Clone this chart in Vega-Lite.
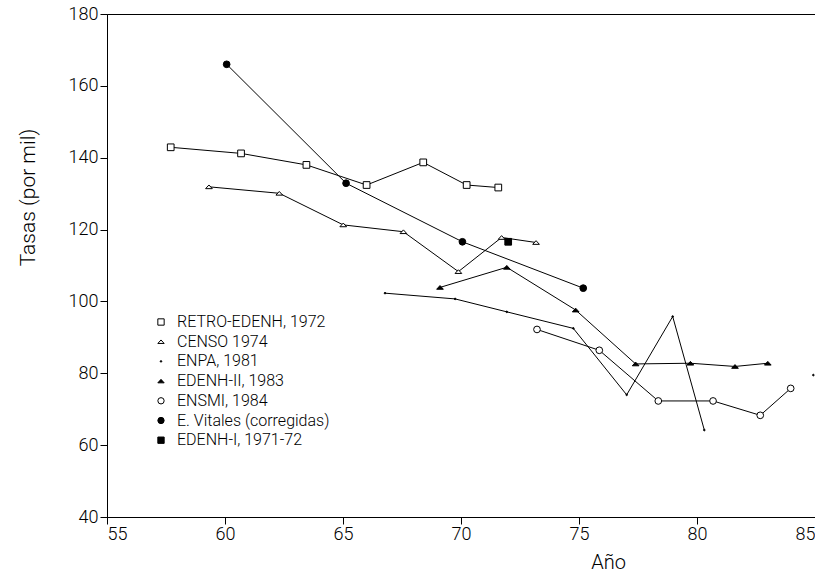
{
  "$schema": "https://vega.github.io/schema/vega-lite/v6.json",
  "width": 708,
  "height": 503,
  "autosize": {"type": "none"},
  "padding": {"left": 107, "top": 14, "right": 0, "bottom": 58},
  "background": "white",
  "config": {
    "view": {"stroke": "black", "strokeWidth": 1},
    "font": "Roboto, sans-serif",
    "axis": {"grid": false, "domainColor": "black", "tickColor": "black", "labelColor": "black", "titleColor": "black", "labelFont": "Roboto, sans-serif", "labelFontWeight": 300, "titleFont": "Roboto, sans-serif", "titleFontWeight": 300}
  },
  "data": {
    "values": [
      {"serie": "RETRO-EDENH, 1972", "anio": 57.7, "tasa": 142.9, "tramo": 1},
      {"serie": "RETRO-EDENH, 1972", "anio": 60.68, "tasa": 141.2, "tramo": 1},
      {"serie": "RETRO-EDENH, 1972", "anio": 63.45, "tasa": 138.0, "tramo": 1},
      {"serie": "RETRO-EDENH, 1972", "anio": 66.0, "tasa": 132.4, "tramo": 1},
      {"serie": "RETRO-EDENH, 1972", "anio": 68.4, "tasa": 138.7, "tramo": 1},
      {"serie": "RETRO-EDENH, 1972", "anio": 70.24, "tasa": 132.4, "tramo": 1},
      {"serie": "RETRO-EDENH, 1972", "anio": 71.58, "tasa": 131.7, "tramo": 1},
      {"serie": "CENSO 1974", "anio": 59.32, "tasa": 131.9, "tramo": 1},
      {"serie": "CENSO 1974", "anio": 62.3, "tasa": 130.1, "tramo": 1},
      {"serie": "CENSO 1974", "anio": 65.01, "tasa": 121.3, "tramo": 1},
      {"serie": "CENSO 1974", "anio": 67.56, "tasa": 119.4, "tramo": 1},
      {"serie": "CENSO 1974", "anio": 69.89, "tasa": 108.3, "tramo": 1},
      {"serie": "CENSO 1974", "anio": 71.72, "tasa": 117.8, "tramo": 1},
      {"serie": "CENSO 1974", "anio": 73.18, "tasa": 116.4, "tramo": 1},
      {"serie": "ENPA, 1981", "anio": 66.78, "tasa": 102.3, "tramo": 1},
      {"serie": "ENPA, 1981", "anio": 69.75, "tasa": 100.7, "tramo": 1},
      {"serie": "ENPA, 1981", "anio": 71.94, "tasa": 97.1, "tramo": 1},
      {"serie": "ENPA, 1981", "anio": 74.76, "tasa": 92.5, "tramo": 1},
      {"serie": "ENPA, 1981", "anio": 77.02, "tasa": 74.0, "tramo": 1},
      {"serie": "ENPA, 1981", "anio": 78.97, "tasa": 95.8, "tramo": 1},
      {"serie": "ENPA, 1981", "anio": 80.31, "tasa": 64.2, "tramo": 1},
      {"serie": "ENPA, 1981", "anio": 84.93, "tasa": 79.5, "tramo": 2},
      {"serie": "EDENH-II, 1983", "anio": 69.11, "tasa": 103.9, "tramo": 1},
      {"serie": "EDENH-II, 1983", "anio": 71.94, "tasa": 109.5, "tramo": 1},
      {"serie": "EDENH-II, 1983", "anio": 74.86, "tasa": 97.6, "tramo": 1},
      {"serie": "EDENH-II, 1983", "anio": 77.4, "tasa": 82.6, "tramo": 1},
      {"serie": "EDENH-II, 1983", "anio": 79.72, "tasa": 82.8, "tramo": 1},
      {"serie": "EDENH-II, 1983", "anio": 81.61, "tasa": 81.9, "tramo": 1},
      {"serie": "EDENH-II, 1983", "anio": 83.0, "tasa": 82.8, "tramo": 1},
      {"serie": "ENSMI, 1984", "anio": 73.22, "tasa": 92.2, "tramo": 1},
      {"serie": "ENSMI, 1984", "anio": 75.86, "tasa": 86.4, "tramo": 1},
      {"serie": "ENSMI, 1984", "anio": 78.36, "tasa": 72.3, "tramo": 1},
      {"serie": "ENSMI, 1984", "anio": 80.68, "tasa": 72.3, "tramo": 1},
      {"serie": "ENSMI, 1984", "anio": 82.68, "tasa": 68.3, "tramo": 1},
      {"serie": "ENSMI, 1984", "anio": 83.97, "tasa": 75.8, "tramo": 1},
      {"serie": "E. Vitales (corregidas)", "anio": 60.07, "tasa": 166.0, "tramo": 1},
      {"serie": "E. Vitales (corregidas)", "anio": 65.13, "tasa": 132.9, "tramo": 1},
      {"serie": "E. Vitales (corregidas)", "anio": 70.06, "tasa": 116.6, "tramo": 1},
      {"serie": "E. Vitales (corregidas)", "anio": 75.18, "tasa": 103.7, "tramo": 1},
      {"serie": "EDENH-I, 1971-72", "anio": 72.0, "tasa": 116.6, "tramo": 1}
    ]
  },
  "encoding": {
    "x": {
      "field": "anio", "type": "quantitative",
      "scale": {"domain": [55, 85], "nice": false, "zero": false},
      "axis": {"values": [55, 60, 65, 70, 75, 80, 85], "tickSize": 7, "labelFontSize": 18, "labelPadding": 1, "title": "Año", "titleFontSize": 20, "titleX": 501, "titleY": 45, "titleBaseline": "middle", "titleAnchor": "middle", "titleAlign": "center"}
    },
    "y": {
      "field": "tasa", "type": "quantitative",
      "scale": {"domain": [40, 180], "nice": false, "zero": false},
      "axis": {"values": [40, 60, 80, 100, 120, 140, 160, 180], "tickSize": 7, "labelFontSize": 18, "labelPadding": 2, "title": "Tasas (por mil)", "titleFontSize": 21, "titleX": -79, "titleY": 183, "titleBaseline": "middle", "titleAlign": "center", "titleAnchor": "middle"}
    }
  },
  "layer": [
    {
      "mark": {"type": "line", "color": "black", "strokeWidth": 1},
      "encoding": {
        "detail": [{"field": "serie", "type": "nominal"}, {"field": "tramo", "type": "nominal"}]
      }
    },
    {
      "mark": {"type": "point", "stroke": "black", "strokeWidth": 1, "opacity": 1, "size": 45},
      "encoding": {
        "shape": {
          "field": "serie", "type": "nominal",
          "scale": {
            "domain": ["RETRO-EDENH, 1972", "CENSO 1974", "ENPA, 1981", "EDENH-II, 1983", "ENSMI, 1984", "E. Vitales (corregidas)", "EDENH-I, 1971-72"],
            "range": ["square", "M-1,0.55L1,0.55L0,-0.55Z", "M-0.25,0A0.25,0.25 0 1,0 0.25,0A0.25,0.25 0 1,0 -0.25,0Z", "M-1,0.55L1,0.55L0,-0.55Z", "circle", "circle", "square"]
          },
          "legend": {"title": null}
        },
        "fill": {
          "field": "serie", "type": "nominal",
          "scale": {
            "domain": ["RETRO-EDENH, 1972", "CENSO 1974", "ENPA, 1981", "EDENH-II, 1983", "ENSMI, 1984", "E. Vitales (corregidas)", "EDENH-I, 1971-72"],
            "range": ["white", "white", "black", "black", "white", "black", "black"]
          },
          "legend": {
            "title": null, "orient": "none", "legendX": 46, "legendY": 300,
            "labelFontSize": 16, "labelColor": "black", "labelFont": "Roboto, sans-serif", "labelFontWeight": 300,
            "symbolStrokeColor": "black", "symbolStrokeWidth": 1, "symbolSize": 40, "rowPadding": 3.7, "labelOffset": 8
          }
        }
      }
    }
  ]
}
